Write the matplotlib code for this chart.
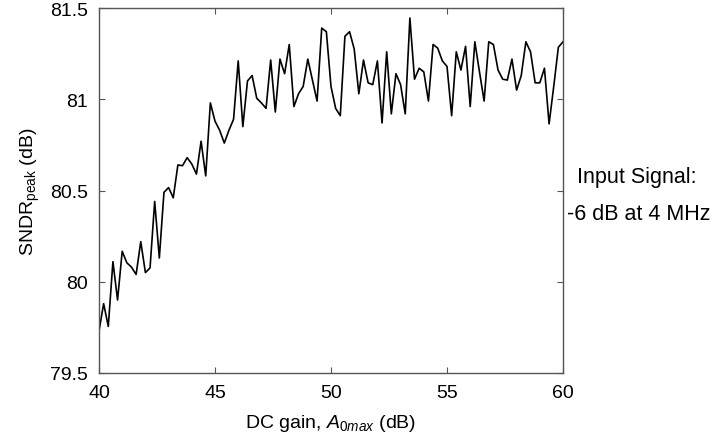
import numpy as np
import matplotlib
matplotlib.use("Agg")
import matplotlib.pyplot as plt

# fonts: Arial look-alike, also for the math parts of the labels
plt.rcParams['font.family'] = ['Liberation Sans', 'DejaVu Sans']
plt.rcParams['mathtext.fontset'] = 'custom'
plt.rcParams['mathtext.rm'] = 'Liberation Sans'
plt.rcParams['mathtext.it'] = 'Liberation Sans:italic'

# Data ----------------------------------------------------------------

# DC gain sweep, 40 .. 60 dB in 0.2 dB steps
gain_start = 40.0
gain_step = 0.2

# peak SNDR (dB)
sndr_40_to_46 = [79.73, 79.88, 79.755, 80.11, 79.90, 80.167, 80.104, 80.08,
                 80.04, 80.22, 80.05, 80.076, 80.44, 80.13, 80.49, 80.516,
                 80.46, 80.64, 80.636, 80.68, 80.645, 80.59, 80.77, 80.58,
                 80.98, 80.88, 80.83, 80.76, 80.83, 80.89, 81.21]
sndr_46_to_54 = [80.85, 81.10, 81.13, 81.005, 80.98, 80.95, 81.215, 80.93,
                 81.22, 81.14, 81.30, 80.96, 81.03, 81.07, 81.22, 81.105,
                 80.99, 81.39, 81.37, 81.07, 80.95, 80.91, 81.345, 81.37,
                 81.275, 81.03, 81.215, 81.09, 81.08, 81.21, 80.87, 81.26,
                 80.92, 81.14, 81.08, 80.92, 81.445, 81.11, 81.17, 81.15]
sndr_54_to_60 = [80.99, 81.30, 81.28, 81.21, 81.18, 80.91, 81.26, 81.16,
                 81.29, 80.96, 81.315, 81.15, 80.99, 81.315, 81.30, 81.16,
                 81.11, 81.105, 81.22, 81.05, 81.13, 81.315, 81.26, 81.09,
                 81.09, 81.17, 80.865, 81.07, 81.285, 81.315]

sndr = np.array(sndr_40_to_46 + sndr_46_to_54 + sndr_54_to_60)
gain = gain_start + gain_step * np.arange(len(sndr))

x_ticks = [40, 45, 50, 55, 60]
y_ticks = [79.5, 80, 80.5, 81, 81.5]
y_ticklabels = ["79.5", "80", "80.5", "81", "81.5"]

# Plot ----------------------------------------------------------------

fig = plt.figure(figsize=(7.16, 4.39), dpi=100)
ax = fig.add_axes([99 / 716, 1 - 374 / 439, 464 / 716, 365 / 439])

ax.plot(gain, sndr, color="black", linewidth=1.2)

ax.set_xlim(40, 60)
ax.set_ylim(79.5, 81.5)
ax.set_xticks(x_ticks)
ax.set_yticks(y_ticks)
ax.set_yticklabels(y_ticklabels)

# inward ticks on all four sides, grey frame like the original
ax.tick_params(direction="in", top=True, right=True, length=4,
               color="#555555", labelsize=14, pad=8)
for s in ax.spines.values():
    s.set_color("#555555")
    s.set_linewidth(1.0)

ax.set_xlabel(r"DC gain, $A_{\mathit{0max}}$ (dB)", fontsize=14, labelpad=8)
ax.set_ylabel(r"SNDR$_{\mathrm{peak}}$ (dB)", fontsize=14, labelpad=6)

# annotation to the right of the axes
fig.text(577 / 716, 1 - 183 / 439, "Input Signal:", fontsize=15.5,
         va="baseline")
fig.text(567 / 716, 1 - 220 / 439, "-6 dB at 4 MHz", fontsize=15.5,
         va="baseline")

plt.savefig("out.png", dpi=100)
